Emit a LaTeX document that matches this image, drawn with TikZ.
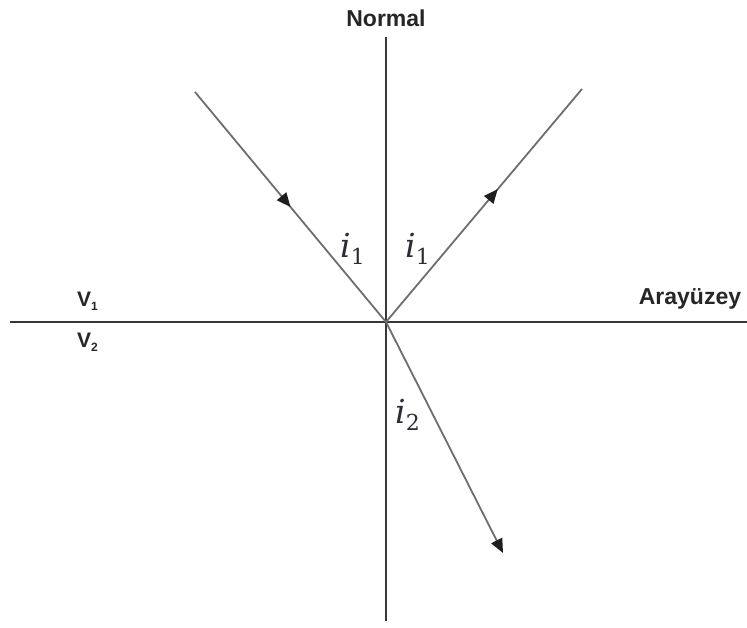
\documentclass[tikz,border=0pt]{standalone}
\usepackage{fontspec}
\setsansfont{Liberation Sans}
\newfontfamily\angfont{DejaVu Serif}
\usetikzlibrary{arrows.meta,decorations.markings}
\definecolor{axisgray}{HTML}{383838}
\definecolor{raygray}{HTML}{6E6E6E}
\definecolor{labelgray}{HTML}{262626}
\definecolor{anglecol}{HTML}{2C2C38}
\definecolor{tipcol}{HTML}{1E1E1E}
\newcommand{\anglbl}[1]{{\angfont\itshape i}\raisebox{-7pt}{\angfont\fontsize{22}{22}\selectfont #1}}
\begin{document}
\begin{tikzpicture}[x=1pt,y=-1pt,
  axisline/.style={draw=axisgray,line width=2.6pt},
  rayline/.style={draw=raygray,line width=1.8pt},
  lbl/.style={font=\sffamily\bfseries\fontsize{23}{26}\selectfont,text=labelgray,inner sep=0pt},
  vlbl/.style={font=\sffamily\bfseries\fontsize{21}{24}\selectfont,text=labelgray,inner sep=0pt},
  ang/.style={font=\fontsize{33}{38}\selectfont,text=anglecol,inner sep=0pt},
  midarrow/.style={postaction={decorate},decoration={markings,mark=at position #1 with {\arrow[tipcol]{Triangle[length=14pt,width=12pt]}}}}
]
\useasboundingbox[fill=white] (0,0) rectangle (747,628);
% key points
\coordinate (O) at (386,322);
\coordinate (ntop) at (386,37);
\coordinate (nbot) at (386,621);
\coordinate (ileft) at (10,322);
\coordinate (iright) at (747,322);
\coordinate (inc) at (195,92);
\coordinate (refl) at (582,89);
\coordinate (refr) at (503,553);
% axes
\draw[axisline] (ntop) -- (nbot);
\draw[axisline] (ileft) -- (iright);
% rays
\draw[rayline,midarrow=0.5] (inc) -- (O);
\draw[rayline,midarrow=0.57] (O) -- (refl);
\draw[rayline,-{Triangle[length=14pt,width=12pt,color=tipcol]}] (O) -- (refr);
% labels
\node[lbl,anchor=base] (normal) at (386,27) {Normal};
\node[lbl,anchor=base] (arayuzey) at (690,305) {Arayüzey};
\node[vlbl,anchor=base west] (v1) at (77,307) {V\raisebox{-4pt}{\fontsize{12}{12}\selectfont 1}};
\node[vlbl,anchor=base west] (v2) at (77,348) {V\raisebox{-4pt}{\fontsize{12}{12}\selectfont 2}};
\node[ang,anchor=base west] (a1) at (340,258) {\anglbl{1}};
\node[ang,anchor=base west] (a2) at (405,258) {\anglbl{1}};
\node[ang,anchor=base west] (a3) at (395,423) {\anglbl{2}};
\end{tikzpicture}
\end{document}
